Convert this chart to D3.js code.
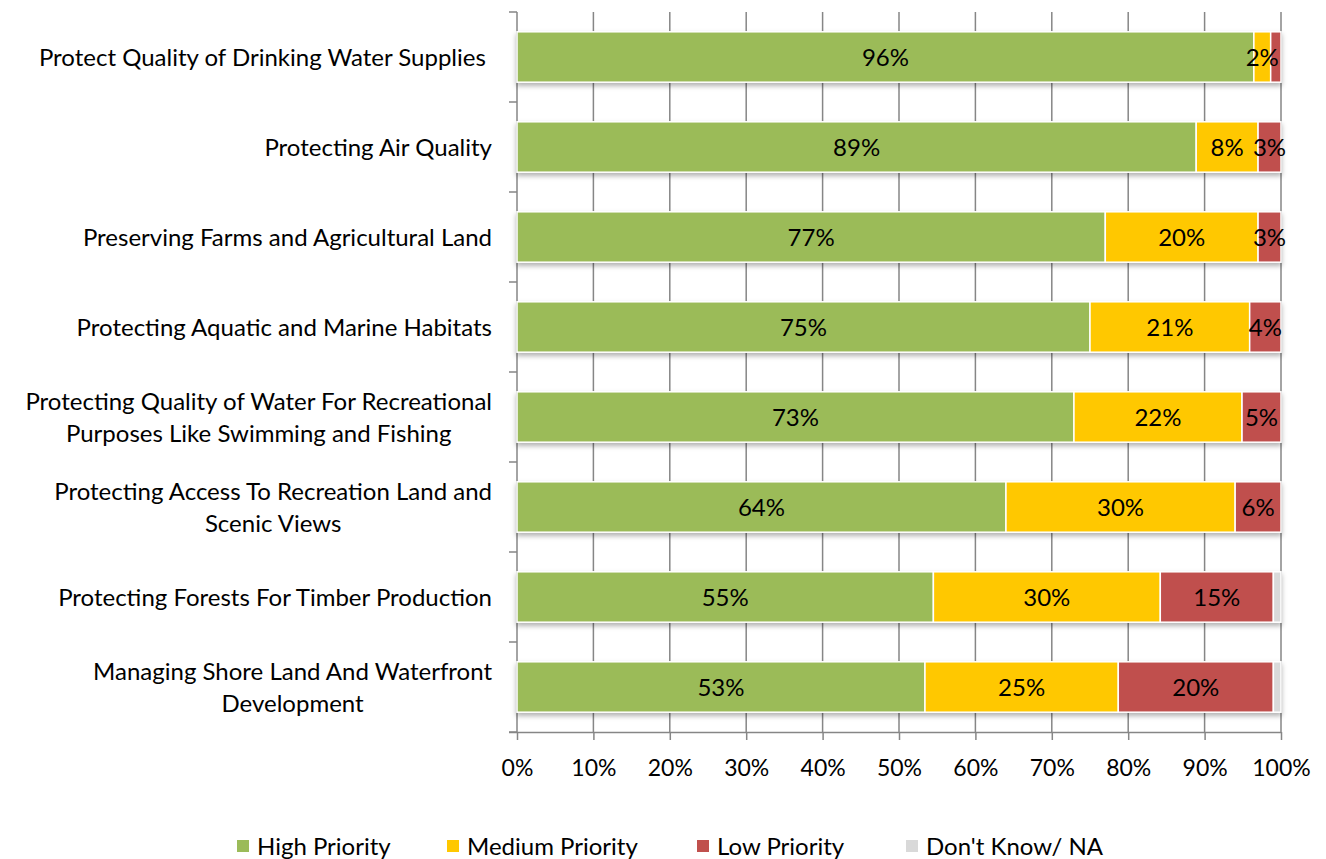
<!DOCTYPE html>
<html><head><meta charset="utf-8">
<script src="https://cdn.jsdelivr.net/npm/d3@7"></script>
<style>body{margin:0;background:#fff;}svg text{font-family:Lato,"Open Sans",sans-serif;fill:#000;}</style>
</head><body>
<svg id="c" width="1326" height="859"></svg>
<script>
const categories = [
  ["Protect Quality of Drinking Water Supplies "],
  ["Protecting Air Quality"],
  ["Preserving Farms and Agricultural Land"],
  ["Protecting Aquatic and Marine Habitats"],
  ["Protecting Quality of Water For Recreational", "Purposes Like Swimming and Fishing"],
  ["Protecting Access To Recreation Land and", "Scenic Views"],
  ["Protecting Forests For Timber Production"],
  ["Managing Shore Land And Waterfront", "Development"]
];
const seriesNames = ["High Priority", "Medium Priority", "Low Priority", "Don't Know/ NA"];
const colors = ["#9bbb59", "#ffc800", "#c0504d", "#d9d9d9"];
const high   = [96.45, 88.9, 77.0, 75.0, 72.9, 64.0, 54.5, 53.4];
const medium = [2.2, 8.1, 20.0, 20.9, 22.0, 30.0, 29.7, 25.3];
const low    = [1.35, 3.0, 3.0, 4.1, 5.1, 6.0, 14.8, 20.3];
const dontKnow = [0, 0, 0, 0, 0, 0, 1.0, 1.0];
const tickValues = [0,10,20,30,40,50,60,70,80,90,100];

(function(){
const FS = 24;
const svg = d3.select("#c");
const L = 517, R = 1281, T = 12, B = 732;
const x = d3.scaleLinear().domain([0,100]).range([L,R]);
const y = d3.scaleBand().domain(d3.range(categories.length)).range([T,B]).paddingInner(0.44).paddingOuter(0.22);
const yOuter = d3.scaleBand().domain(d3.range(categories.length)).range([T,B]);

const defs = svg.append("defs");
const f = defs.append("filter").attr("id","sh").attr("x","-5%").attr("y","-20%").attr("width","110%").attr("height","160%");
f.append("feDropShadow").attr("dx",0).attr("dy",3).attr("stdDeviation",2.5).attr("flood-color","#000").attr("flood-opacity",0.3);

svg.append("g").selectAll("line").data(tickValues.slice(1)).join("line")
  .attr("x1",d=>x(d)).attr("x2",d=>x(d)).attr("y1",T).attr("y2",B)
  .attr("stroke","#868686").attr("stroke-width",1.5);

const xAxis = svg.append("g").attr("transform",`translate(0,${B})`)
  .call(d3.axisBottom(x).tickValues(tickValues).tickFormat(d=>d+"%").tickSize(8).tickSizeOuter(0).tickPadding(20));
xAxis.select(".domain").attr("stroke","#868686").attr("stroke-width",1.5).attr("d",`M${L-8},0.5H${R}`);
xAxis.selectAll(".tick line").attr("stroke","#868686").attr("stroke-width",1.5);
xAxis.selectAll(".tick text").attr("font-size",23).attr("fill","#000").style("font-family","Lato, 'Open Sans', sans-serif");

const yl = svg.append("g");
yl.append("line").attr("x1",L).attr("x2",L).attr("y1",T).attr("y2",B).attr("stroke","#868686").attr("stroke-width",1.5);
yl.selectAll("line.t").data(d3.range(categories.length+1)).join("line").attr("class","t")
  .attr("x1",L-8).attr("x2",L).attr("y1",i=>T+i*yOuter.step()).attr("y2",i=>T+i*yOuter.step())
  .attr("stroke","#868686").attr("stroke-width",1.5);

const rows = categories.map((c,i)=>({i, vals:[high[i],medium[i],low[i],dontKnow[i]]}));
const barsG = svg.append("g");
rows.forEach(r=>{
  let acc = 0;
  const g = barsG.append("g").attr("filter","url(#sh)");
  r.vals.forEach((v,k)=>{
    if(v<=0) return;
    const x0 = x(acc), x1 = x(acc+v);
    g.append("rect").attr("x",x0).attr("y",y(r.i)).attr("width",x1-x0).attr("height",y.bandwidth())
      .attr("fill",colors[k]).attr("stroke","#fff").attr("stroke-width",1.5);
    acc += v;
  });
});
rows.forEach(r=>{
  let acc = 0;
  r.vals.forEach((v,k)=>{
    const mid = acc + v/2; acc += v;
    if(v < 1.5) return;
    barsG.append("text").attr("x",x(mid)).attr("y",y(r.i)+y.bandwidth()/2).attr("dy","0.36em")
      .attr("text-anchor","middle").attr("font-size",FS).text(Math.round(v)+"%");
  });
});

categories.forEach((lines,i)=>{
  const cy = yOuter(i)+yOuter.bandwidth()/2;
  const widths = lines.map(l=>{
    const s = svg.append("text").attr("font-size",FS).style("white-space","pre").text(l);
    const w = s.node().getComputedTextLength(); s.remove(); return w;
  });
  const maxW = d3.max(widths);
  const cx = 492 - maxW/2;
  const t = svg.append("text").attr("font-size",FS).attr("text-anchor","middle").style("white-space","pre");
  lines.forEach((l,j)=>{
    t.append("tspan").attr("x",cx).attr("y",cy + (j-(lines.length-1)/2)*32).attr("dy","0.36em").text(l);
  });
});

const legX = [237, 447, 697, 906];
const lg = svg.append("g");
seriesNames.forEach((n,k)=>{
  lg.append("rect").attr("x",legX[k]).attr("y",840).attr("width",12).attr("height",12).attr("fill",colors[k]);
  lg.append("text").attr("x",legX[k]+20).attr("y",846).attr("dy","0.36em").attr("font-size",FS).text(n);
});
})();
</script>
</body></html>
